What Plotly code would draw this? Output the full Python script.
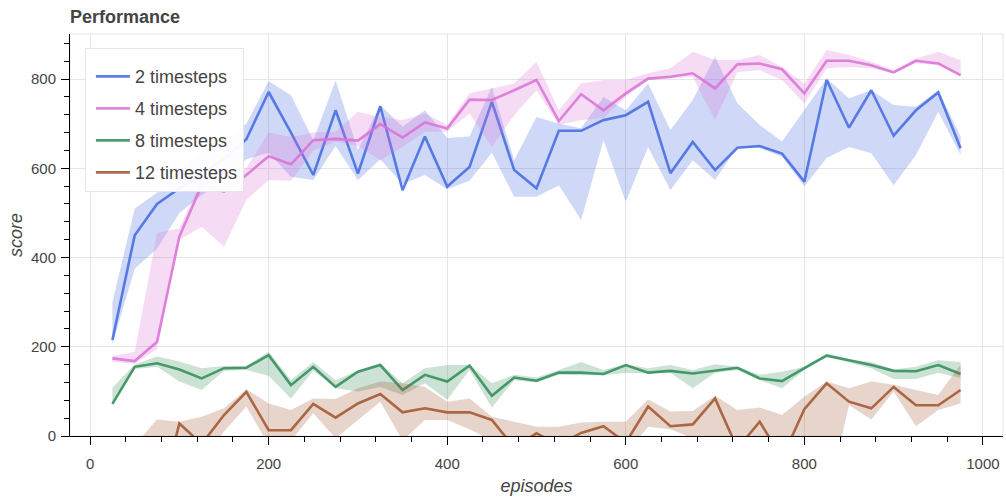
import plotly.graph_objects as go

# Training curves: mean score per evaluation point with a spread band
episodes = [25, 50, 75, 100, 125, 150, 175, 200, 225, 250, 275, 300, 325, 350, 375,
            400, 425, 450, 475, 500, 525, 550, 575, 600, 625, 650, 675, 700, 725, 750,
            775, 800, 825, 850, 875, 900, 925, 950, 975]

ts2_mean = [215, 450, 520, 555, 590, 620, 665, 771, 680, 585, 730, 588, 739, 551, 671,
            559, 603, 749, 596, 555, 684, 684, 708, 719, 749, 589, 659, 596, 646, 650,
            633, 570, 798, 691, 775, 673, 730, 770, 645]
ts2_low = [205, 375, 420, 500, 540, 570, 620, 635, 581, 574, 650, 574, 620, 565, 585,
           553, 572, 635, 536, 536, 562, 484, 663, 525, 648, 551, 618, 574, 648, 645,
           626, 560, 623, 648, 634, 562, 630, 727, 630]
ts2_high = [300, 510, 545, 600, 640, 660, 700, 795, 764, 663, 797, 641, 742, 693, 730,
            668, 671, 783, 618, 715, 700, 690, 760, 730, 790, 686, 753, 850, 746, 697,
            660, 730, 801, 757, 775, 742, 738, 775, 671]

ts4_mean = [174, 168, 211, 447, 562, 548, 585, 627, 609, 663, 666, 662, 699, 669, 703,
            689, 754, 753, 775, 798, 706, 766, 730, 768, 801, 805, 813, 779, 833, 835,
            822, 768, 841, 841, 831, 815, 841, 835, 809]
ts4_low = [166, 162, 195, 440, 469, 424, 529, 574, 572, 640, 660, 650, 618, 648, 682,
           682, 723, 648, 719, 775, 697, 708, 713, 760, 798, 801, 805, 708, 816, 820,
           798, 745, 824, 827, 824, 813, 836, 831, 805]
ts4_high = [180, 188, 455, 465, 575, 570, 600, 680, 670, 680, 682, 727, 715, 708, 723,
            697, 768, 779, 790, 839, 730, 790, 798, 798, 813, 824, 861, 843, 843, 854,
            827, 790, 865, 854, 839, 820, 846, 861, 843]

ts8_mean = [72, 155, 163, 149, 129, 152, 153, 181, 114, 155, 110, 144, 159, 103, 137,
            122, 158, 90, 131, 124, 142, 142, 139, 159, 142, 146, 140, 146, 153, 129,
            123, 152, 180, 170, 159, 146, 145, 159, 139]
ts8_low = [70, 150, 155, 122, 103, 146, 148, 135, 84, 147, 107, 100, 110, 92, 118,
           81, 148, 64, 125, 120, 137, 136, 136, 142, 140, 142, 107, 142, 148, 125,
           107, 148, 178, 165, 152, 128, 128, 142, 130]
ts8_high = [108, 160, 178, 167, 152, 157, 157, 189, 125, 166, 125, 147, 163, 118, 152,
            159, 159, 118, 137, 131, 148, 166, 148, 161, 152, 159, 148, 161, 155, 137,
            144, 155, 185, 172, 166, 149, 155, 170, 166]

ts12_mean = [-110, -130, -170, 28, -18, 47, 99, 13, 13, 72, 41, 73, 94, 53, 62,
             53, 53, 36, -26, 6, -20, 7, 22, -15, 66, 22, 26, 84, -28, 32,
             -50, 60, 118, 77, 62, 110, 69, 69, 103]
ts12_low = [-150, -170, -200, -20, -60, 10, 66, -20, -10, 51, -5, 36, 77, -10, 36,
            36, 15, -10, -60, -30, -40, -10, -15, -40, 21, 15, -5, -15, -60, 0,
            -80, -40, -150, 69, 37, 100, 22, 58, 73]
ts12_high = [-60, -20, 37, 32, 43, 62, 105, 73, 58, 84, 83, 107, 122, 118, 110,
             77, 84, 43, 32, 21, 21, 30, 32, 32, 82, 55, 56, 90, 58, 64,
             47, 88, 122, 107, 122, 115, 103, 92, 160]

series = [
    ("2 timesteps", ts2_mean, ts2_low, ts2_high, (65, 105, 225)),
    ("4 timesteps", ts4_mean, ts4_low, ts4_high, (218, 112, 214)),
    ("8 timesteps", ts8_mean, ts8_low, ts8_high, (46, 139, 87)),
    ("12 timesteps", ts12_mean, ts12_low, ts12_high, (160, 82, 45)),
]

FONT = "Liberation Sans, Arial, Helvetica, sans-serif"
TEXT = "#444444"

fig = go.Figure()
for name, mean, low, high, (r, g, b) in series:
    fig.add_trace(go.Scatter(
        x=episodes + episodes[::-1],
        y=high + low[::-1],
        fill="toself",
        fillcolor=f"rgba({r},{g},{b},0.25)",
        line=dict(width=0),
        mode="lines",
        hoverinfo="skip",
        showlegend=False,
        legendgroup=name,
    ))
    fig.add_trace(go.Scatter(
        x=episodes, y=mean,
        mode="lines",
        name=name,
        legendgroup=name,
        line=dict(color=f"rgba({r},{g},{b},0.85)", width=2.6),
    ))

axis_common = dict(
    showline=True, linecolor="black", linewidth=1,
    ticks="outside", ticklen=8, tickwidth=1, tickcolor="black",
    showgrid=True, gridcolor="#e5e5e5", gridwidth=1,
    zeroline=False,
    tickfont=dict(family=FONT, size=15, color=TEXT),
    minor=dict(ticks="outside", ticklen=5, tickwidth=1, tickcolor="black",
               dtick=40, showgrid=False),
)

fig.update_xaxes(range=[-22.5, 1022.5], dtick=200, tick0=0, ticklabelstandoff=6,
                 title=dict(text="episodes", standoff=8,
                            font=dict(family=FONT, size=18, color=TEXT, style="italic")),
                 **axis_common)
fig.update_yaxes(range=[0, 901], dtick=200, tick0=0, ticklabelstandoff=2,
                 title=dict(text="score", standoff=3,
                            font=dict(family=FONT, size=18, color=TEXT, style="italic")),
                 **axis_common)

# light outline around the plotting frame
fig.add_shape(type="rect", xref="paper", yref="paper", x0=0, y0=0, x1=1, y1=1,
              line=dict(color="#e5e5e5", width=1), layer="below")

fig.update_layout(
    width=1006, height=500,
    margin=dict(l=70, r=3, t=34, b=64),
    paper_bgcolor="white", plot_bgcolor="white",
    title=dict(text="Performance", xref="container", yref="container",
               x=70 / 1006, xanchor="left", y=1 - 17 / 500, yanchor="middle",
               font=dict(family=FONT, size=18, color=TEXT, weight="bold")),
    legend=dict(x=0.016, y=0.965, xanchor="left", yanchor="top",
                bgcolor="rgba(255,255,255,0.95)", bordercolor="#e5e5e5", borderwidth=1,
                font=dict(family=FONT, size=18, color=TEXT),
                title=dict(text=" ", font=dict(size=7)),
                indentation=5, itemwidth=34,
                tracegroupgap=5.6, traceorder="grouped"),
    showlegend=True,
)

fig.write_html("out.html")
